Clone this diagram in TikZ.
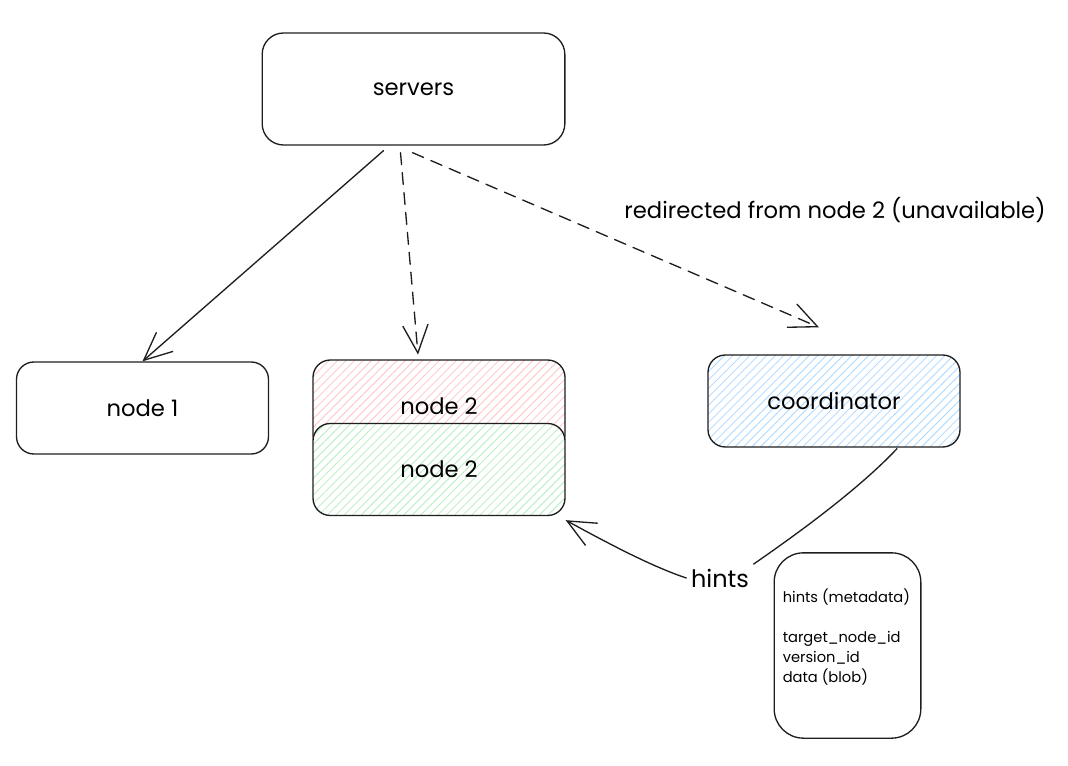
\documentclass[tikz,border=0pt]{standalone}
\usepackage{fontspec}
\setmainfont{Poppins}
\usetikzlibrary{arrows.meta,calc,patterns.meta}
\definecolor{ink}{HTML}{1E1E1E}
\definecolor{hatchred}{HTML}{FFC4C4}
\definecolor{hatchgreen}{HTML}{B5EEBE}
\definecolor{hatchblue}{HTML}{ABD8FF}
\tikzset{
  box/.style={draw=ink,line width=1pt,rounded corners=13pt,minimum width=189pt,minimum height=69pt,font=\fontsize{17}{20}\selectfont},
  hatch/.style={preaction={fill=white},pattern={Lines[angle=45,distance=4.5pt,line width=0.6pt]},pattern color=#1},
  conn/.style={draw=ink,line width=1pt,line cap=round,-{Straight Barb[length=21pt,width=19pt,line width=1pt]}},
}
\begin{document}
\begin{tikzpicture}[x=0.75pt,y=-0.75pt]
\useasboundingbox (0,0) rectangle (1068,766);
% boxes
\node[box,rounded corners=16pt,minimum width=227pt,minimum height=84pt] (servers) at (413.5,89) {servers};
\node[box] (node1) at (142.5,408) {node 1};
\node[box,hatch=hatchred] (node2a) at (439,406) {node 2};
\node[box,hatch=hatchgreen] (node2b) at (439,469.5) {node 2};
\node[box,hatch=hatchblue] (coordinator) at (834,401) {coordinator};
\node[draw=ink,line width=1pt,rounded corners=22pt,minimum width=110pt,minimum height=139pt] (hintsbox) at (847.5,645.5) {};
\node[anchor=north west,inner sep=0pt,align=left,font=\fontsize{11}{15}\selectfont] (hintsfields) at ($(hintsbox.north west)+(9,36)$) {hints (metadata)\\[15pt]target\_node\_id\\version\_id\\data (blob)};
% labels
\node[font=\fontsize{17}{20}\selectfont] (redirlabel) at (835,210) {redirected from node 2 (unavailable)};
\node[font=\fontsize{18}{20}\selectfont] (hintstext) at (720,578) {hints};
% connectors
\draw[conn] ($(servers.south)+(-30,5)$) -- (node1.north);
\draw[conn,dash pattern=on 9pt off 6pt] ($(servers.south)+(-13,7)$) -- ($(node2a.north)+(-21,-5)$);
\draw[conn,dash pattern=on 9pt off 6pt] ($(servers.south)+(-1,7)$) -- ($(coordinator.north)+(-15,-27)$);
\draw[draw=ink,line width=1pt,line cap=round] ($(coordinator.south)+(63,1)$) .. controls (860,488) and (800,532) .. (hintstext.north east);
\draw[conn] (hintstext.west) .. controls (650,566) and (602,540) .. ($(node2b.south east)+(0,4)$);
\end{tikzpicture}
\end{document}
